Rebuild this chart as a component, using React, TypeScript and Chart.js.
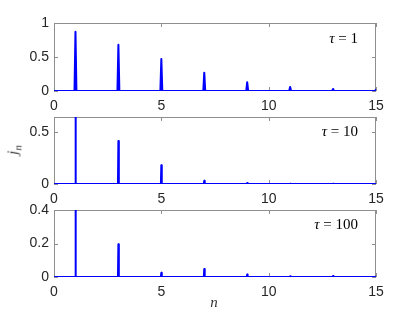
import React, { useEffect, useRef } from "react";
import { Chart, registerables } from "chart.js";

Chart.register(...registerables);

// Harmonic orders where peaks appear
const harmonics = [1, 3, 5, 7, 9, 11, 13, 15];
// Peak heights j_n for each tau
const tau1Peaks = [0.87, 0.68, 0.47, 0.27, 0.13, 0.06, 0.03, 0.02];
const tau10Peaks = [0.75, 0.41, 0.18, 0.03, 0.01, 0.003, 0.002, 0.001];
const tau100Peaks = [0.5, 0.195, 0.025, 0.048, 0.015, 0.004, 0.006, 0.002];
const xTicks = [0, 5, 10, 15];
const yTicks1 = [0, 0.5, 1];
const yTicks2 = [0, 0.5];
const yTicks3 = [0, 0.2, 0.4];
const tauLabels = ["1", "10", "100"];

const W = 415;
const H = 312;
const LEFT = 54;
const RIGHT = 376;
const AXIS = "#8f8f8f";
const LABEL = "#262626";
const TICKFONT = { family: "'Liberation Sans', Arial, sans-serif", size: 14 };

function buildPoints(peaks: number[], halfWidth: number) {
  const pts: { x: number; y: number }[] = [{ x: 0, y: 0 }];
  harmonics.forEach((n, i) => {
    pts.push({ x: n - halfWidth, y: 0 });
    pts.push({ x: n, y: peaks[i] });
    if (n + halfWidth <= 15) pts.push({ x: n + halfWidth, y: 0 });
  });
  return pts;
}

const boxPlugin = {
  id: "box",
  beforeDatasetsDraw(chart: any) {
    const { ctx, chartArea: a, scales } = chart;
    ctx.save();
    ctx.strokeStyle = AXIS;
    ctx.lineWidth = 1;
    ctx.strokeRect(a.left + 0.5, a.top + 0.5, a.right - a.left - 1, a.bottom - a.top - 1);
    const tl = 4;
    ctx.beginPath();
    scales.x.ticks.forEach((t: any) => {
      const px = Math.round(scales.x.getPixelForValue(t.value)) + 0.5;
      ctx.moveTo(px, a.bottom);
      ctx.lineTo(px, a.bottom - tl);
      ctx.moveTo(px, a.top);
      ctx.lineTo(px, a.top + tl);
    });
    scales.y.ticks.forEach((t: any) => {
      const py = Math.round(scales.y.getPixelForValue(t.value)) + 0.5;
      ctx.moveTo(a.left, py);
      ctx.lineTo(a.left + tl, py);
      ctx.moveTo(a.right, py);
      ctx.lineTo(a.right - tl, py);
    });
    ctx.stroke();
    ctx.restore();
  },
};

type PanelProps = {
  peaks: number[];
  halfWidth: number;
  top: number;
  bottom: number;
  yMax: number;
  yTicks: number[];
};

function Panel({ peaks, halfWidth, top, bottom, yMax, yTicks }: PanelProps) {
  const ref = useRef<HTMLCanvasElement>(null);
  useEffect(() => {
    if (!ref.current) return;
    const chart = new Chart(ref.current, {
      type: "line",
      data: {
        datasets: [
          {
            data: buildPoints(peaks, halfWidth),
            borderColor: "#0000ff",
            borderWidth: 2,
            borderJoinStyle: "round",
            borderCapStyle: "round",
            pointRadius: 0,
            tension: 0,
            fill: false,
          },
        ],
      },
      options: {
        animation: false,
        responsive: false,
        devicePixelRatio: 1,
        events: [],
        layout: { padding: { top, bottom: 0, left: 0, right: W - RIGHT } },
        plugins: { legend: { display: false }, tooltip: { enabled: false } },
        scales: {
          x: {
            type: "linear",
            min: 0,
            max: 15,
            grid: { display: false, drawTicks: false },
            border: { display: false },
            ticks: {
              font: TICKFONT,
              color: LABEL,
              padding: 7,
              maxRotation: 0,
              callback: (v: any) => String(v),
            },
            afterBuildTicks: (s: any) => {
              s.ticks = xTicks.map((v) => ({ value: v }));
            },
            afterFit: (s: any) => {
              s.height = H - bottom;
            },
          },
          y: {
            type: "linear",
            min: 0,
            max: yMax,
            grid: { display: false, drawTicks: false },
            border: { display: false },
            ticks: {
              font: TICKFONT,
              color: LABEL,
              padding: 5,
              callback: (v: any) => String(v),
            },
            afterBuildTicks: (s: any) => {
              s.ticks = yTicks.map((v) => ({ value: v }));
            },
            afterFit: (s: any) => {
              s.width = LEFT;
            },
          },
        },
      } as any,
      plugins: [boxPlugin],
    });
    return () => chart.destroy();
  }, []);
  return (
    <canvas
      ref={ref}
      width={W}
      height={H}
      style={{ position: "absolute", left: 0, top: 0, width: W, height: H }}
    />
  );
}

const serif = "'Liberation Serif', 'DejaVu Serif', serif";

function TauLabel({ value, y }: { value: string; y: number }) {
  return (
    <div
      style={{
        position: "absolute",
        right: W - 358,
        top: y - 9,
        fontFamily: serif,
        fontSize: 15,
        color: "#000",
        whiteSpace: "nowrap",
        lineHeight: "18px",
      }}
    >
      <i>τ</i> = {value}
    </div>
  );
}

export default function App() {
  return (
    <div
      style={{
        position: "absolute",
        left: 0,
        top: 0,
        width: W,
        height: H,
        background: "#fff",
        overflow: "hidden",
      }}
    >
      <Panel peaks={tau1Peaks} halfWidth={0.045} top={23} bottom={91} yMax={1} yTicks={yTicks1} />
      <Panel peaks={tau10Peaks} halfWidth={0.02} top={117} bottom={184} yMax={0.64} yTicks={yTicks2} />
      <Panel peaks={tau100Peaks} halfWidth={0.02} top={210} bottom={277} yMax={0.4} yTicks={yTicks3} />
      <TauLabel value={tauLabels[0]} y={38} />
      <TauLabel value={tauLabels[1]} y={131} />
      <TauLabel value={tauLabels[2]} y={224} />
      <div
        style={{
          position: "absolute",
          left: 15,
          top: 150,
          transform: "translate(-50%, -50%) rotate(-90deg)",
          fontFamily: serif,
          fontSize: 15,
          fontStyle: "italic",
          color: "#333",
          whiteSpace: "nowrap",
          lineHeight: "16px",
        }}
      >
        j<sub style={{ fontSize: 11 }}>n</sub>
      </div>
      <div
        style={{
          position: "absolute",
          left: 214,
          top: 302,
          transform: "translate(-50%, -50%)",
          fontFamily: serif,
          fontSize: 15,
          fontStyle: "italic",
          color: "#333",
          lineHeight: "16px",
        }}
      >
        n
      </div>
    </div>
  );
}
